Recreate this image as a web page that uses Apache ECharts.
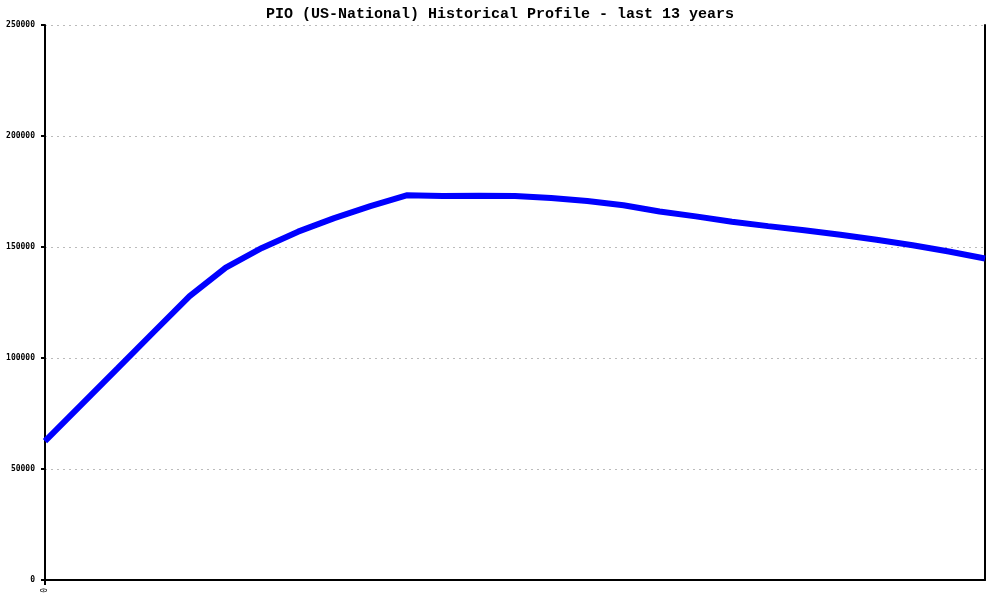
<!DOCTYPE html>
<html>
<head>
<meta charset="utf-8">
<script src="https://cdn.jsdelivr.net/npm/echarts@6/dist/echarts.min.js"></script>
<style>html,body{margin:0;padding:0;background:#fff}#c{width:1000px;height:600px}</style>
</head>
<body>
<div id="c"></div>
<script>
const titleText = 'PIO (US-National) Historical Profile - last 13 years';
const xLabels = ['0','','','','','','','','','','','','','','','','','','','','','','','','','',''];
const profileValues = [62600, 78900, 95200, 111600, 127900, 140700, 149600, 156900, 163000, 168400, 173300, 173000, 173100, 173000, 172100, 170700, 168800, 166000, 163800, 161400, 159400, 157500, 155500, 153300, 150800, 148000, 144800];
const yTicks = [0, 50000, 100000, 150000, 200000, 250000];

const chart = echarts.init(document.getElementById('c'));
chart.setOption({
  animation: false,
  backgroundColor: '#fff',
  title: {
    text: titleText, left: 'center', top: 2,
    textStyle: { fontFamily: 'Liberation Mono', fontSize: 15, fontWeight: 'bold', color: '#000' }
  },
  grid: { left: 45, right: 15, top: 25, bottom: 20 },
  xAxis: {
    type: 'category', data: xLabels, boundaryGap: false,
    axisLine: { lineStyle: { color: '#000', width: 2 } },
    axisTick: { show: true, length: 5, interval: (i) => i === 0, lineStyle: { color: '#000', width: 2 } },
    axisLabel: { interval: (i) => i === 0, rotate: 90, margin: 8, fontFamily: 'DejaVu Sans Mono', fontSize: 8, color: '#000' },
    splitLine: { show: false }
  },
  yAxis: [{
    type: 'value', min: yTicks[0], max: yTicks[yTicks.length - 1], interval: 50000,
    axisLine: { show: true, lineStyle: { color: '#000', width: 2 } },
    axisTick: { show: true, length: 4, lineStyle: { color: '#000', width: 2 } },
    axisLabel: { margin: 10, formatter: (v) => String(v), fontFamily: 'DejaVu Sans Mono', fontSize: 8, fontWeight: 'bold', color: '#000' },
    splitLine: { show: true, lineStyle: { color: '#bbbbbb', type: [2, 4], width: 1 } }
  }, {
    type: 'value', position: 'right', min: 0, max: 250000,
    axisLine: { show: true, lineStyle: { color: '#000', width: 2 } },
    axisTick: { show: false }, axisLabel: { show: false }, splitLine: { show: false }
  }],
  series: [{
    type: 'line', data: profileValues, yAxisIndex: 0,
    showSymbol: false, smooth: false,
    lineStyle: { color: '#0000ff', width: 6 }
  }]
});
</script>
</body>
</html>
